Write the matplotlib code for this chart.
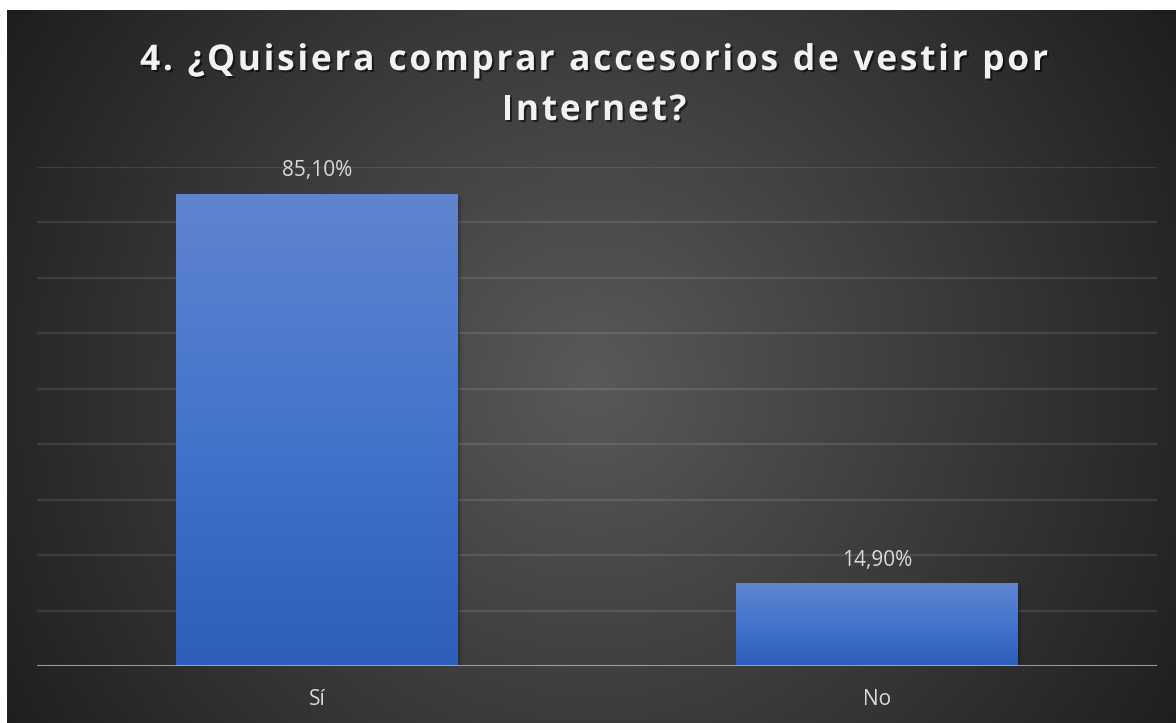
import numpy as np
import matplotlib
matplotlib.use("Agg")
import matplotlib.pyplot as plt
import matplotlib.patheffects as pe
from matplotlib.font_manager import FontProperties
from matplotlib.colors import LinearSegmentedColormap

# ---- data ----
categories = ["Sí", "No"]
values = [0.851, 0.149]
value_labels = ["85,10%", "14,90%"]
title_lines = ["4. ¿Quisiera comprar accesorios de vestir por", "Internet?"]

W, H = 1176, 723
fig = plt.figure(figsize=(W / 100, H / 100), dpi=100, facecolor="white")

# ---- chart area background: radial grey gradient ----
left_px, top_px = 7, 10
bg = fig.add_axes([left_px / W, 0, (W - left_px) / W, (H - top_px) / H])
bg.set_axis_off()
gw, gh = W - left_px, H - top_px
yy, xx = np.mgrid[0:gh, 0:gw]
cx, cy = gw / 2, gh / 2 + 10
d = np.sqrt((xx - cx) ** 2 + (yy - cy) ** 2)
d = d / np.sqrt(cx ** 2 + cy ** 2)
d = np.clip(d, 0, 1)
c_center, c_edge = 89 / 255, 30 / 255
shade = c_center * (1 - d) + c_edge * d
bg.imshow(np.dstack([shade, shade, shade]), aspect="auto",
          extent=[0, 1, 0, 1], origin="upper", interpolation="bilinear")
bg.set_xlim(0, 1)
bg.set_ylim(0, 1)

# ---- plot axes ----
ax_l, ax_r, ax_b, ax_t = 37, 1157, 666, 167
ax = fig.add_axes([ax_l / W, (H - ax_b) / H, (ax_r - ax_l) / W, (ax_b - ax_t) / H])
ax.patch.set_alpha(0)
ax.set_xlim(-0.5, len(categories) - 0.5)
ax.set_ylim(0, 0.9)
for s in ax.spines.values():
    s.set_visible(False)
ax.set_yticks(np.arange(0.1, 0.91, 0.1))
ax.yaxis.grid(True, color="white", alpha=0.1, linewidth=1.6)
ax.set_axisbelow(True)
ax.tick_params(left=False, labelleft=False, bottom=False)
ax.set_xticks(range(len(categories)))
ax.set_xticklabels(categories)
for t in ax.get_xticklabels():
    t.set_fontfamily("Open Sans")
    t.set_fontsize(15)
    t.set_color("#d9d9d9")
ax.tick_params(axis="x", pad=13)

bars = ax.bar(range(len(categories)), values, width=0.502, color="none", zorder=2)

grad_cmap = LinearSegmentedColormap.from_list("bar", ["#2d5eb8", "#4474cc", "#6084cf"])
grad = np.linspace(0, 1, 256).reshape(-1, 1)
for b, lab in zip(bars, value_labels):
    x0, w, h = b.get_x(), b.get_width(), b.get_height()
    # soft shadow
    for k, a in enumerate([0.10, 0.07, 0.04]):
        off = 0.004 + 0.003 * k
        ax.add_patch(plt.Rectangle((x0 + off, 0), w, h - off * 0.5,
                                   facecolor="black", alpha=a, edgecolor="none", zorder=1.5))
    ax.imshow(grad, cmap=grad_cmap, aspect="auto", origin="lower",
              extent=[x0, x0 + w, 0, h], zorder=2.5, interpolation="bilinear")
    ax.text(b.get_x() + w / 2, h + 0.023, lab, ha="center", va="bottom",
            fontfamily="Open Sans", fontsize=15, color="#d9d9d9", zorder=4)
ax.set_xlim(-0.5, len(categories) - 0.5)
ax.set_ylim(0, 0.9)
ax.axhline(0, color="#a8a8a8", linewidth=2.2, alpha=0.9, zorder=3)

# ---- title with letter spacing and shadow ----
renderer = fig.canvas.get_renderer()
fp = FontProperties(family="Open Sans", weight="bold", size=25.5)


def tw(s):
    return renderer.get_text_width_height_descent(s, fp, ismath=False)[0]


def spaced_line(text, baseline_px, center_px, spacing_px):
    ref = tw("|")
    adv = [tw(text[:i + 1] + "|") - tw(text[:i] + "|") if i else tw(text[0] + "|") - ref
           for i in range(len(text))]
    total = sum(adv) + spacing_px * (len(text) - 1)
    x = center_px - total / 2
    for ch, a in zip(text, adv):
        if ch != " ":
            fig.text(x / W, 1 - baseline_px / H, ch, fontproperties=fp,
                     color="#f2f2f2", ha="left", va="baseline",
                     path_effects=[pe.withSimplePatchShadow(offset=(1.5, -1.5),
                                                            shadow_rgbFace="black",
                                                            alpha=0.55)])
        x += a + spacing_px


spacing = 2.7
spaced_line(title_lines[0], 70, 594, spacing)
spaced_line(title_lines[1], 120, 594, spacing)

fig.savefig("out.png", dpi=100, facecolor=fig.get_facecolor())
